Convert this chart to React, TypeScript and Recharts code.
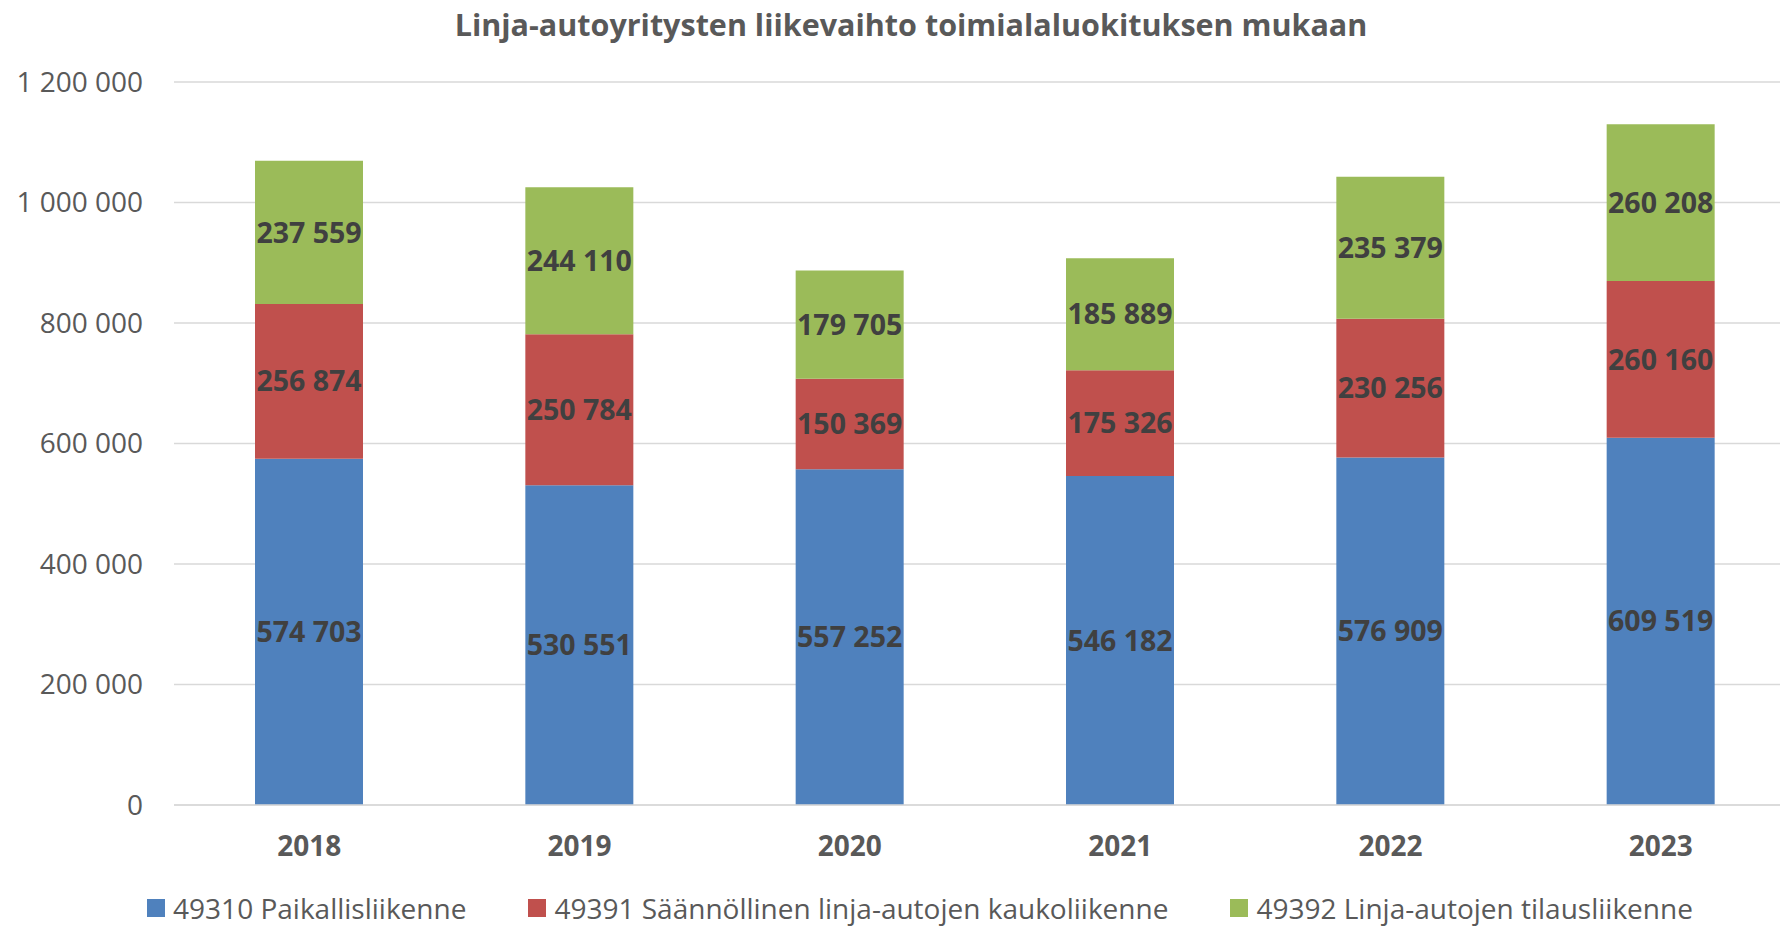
import React from "react";
import { BarChart, Bar, XAxis, YAxis, CartesianGrid, LabelList } from "recharts";

const years = ["2018", "2019", "2020", "2021", "2022", "2023"];
const paikallis = [574703, 530551, 557252, 546182, 576909, 609519];
const kauko = [256874, 250784, 150369, 175326, 230256, 260160];
const tilaus = [237559, 244110, 179705, 185889, 235379, 260208];
const yTicks = [0, 200000, 400000, 600000, 800000, 1000000, 1200000];

const series = [
  { key: "paikallis", name: "49310 Paikallisliikenne", color: "#4F81BD" },
  { key: "kauko", name: "49391 Säännöllinen linja-autojen kaukoliikenne", color: "#C0504D" },
  { key: "tilaus", name: "49392 Linja-autojen tilausliikenne", color: "#9BBB59" },
];

const data = years.map((y, i) => ({
  year: y,
  paikallis: paikallis[i],
  kauko: kauko[i],
  tilaus: tilaus[i],
}));

const fmt = (v: any) => String(v).replace(/\B(?=(\d{3})+(?!\d))/g, " ");
const FONT = "'Open Sans', 'Liberation Sans', sans-serif";

function LegendBox() {
  return (
    <div style={{ display: "flex", justifyContent: "center", gap: 62, fontFamily: FONT, fontSize: 28, lineHeight: "34px", color: "#595959" }}>
      {series.map((s) => (
        <div key={s.key} style={{ display: "flex", alignItems: "center" }}>
          <span style={{ width: 18, height: 18, background: s.color, display: "inline-block", marginRight: 8 }} />
          <span>{s.name}</span>
        </div>
      ))}
    </div>
  );
}

export default function App() {
  return (
    <div style={{ position: "absolute", left: 0, top: 0, width: 1780, height: 926, overflow: "hidden", background: "#fff" }}>
      <div style={{ position: "absolute", left: 0, top: 3, width: 1822, textAlign: "center", fontFamily: FONT, fontWeight: 700, fontSize: 30.5, color: "#595959" }}>
        Linja-autoyritysten liikevaihto toimialaluokituksen mukaan
      </div>
      <BarChart width={1800} height={926} data={data} margin={{ top: 82, right: 4, left: 0, bottom: 36 }}>
        <CartesianGrid vertical={false} stroke="#D9D9D9" strokeWidth={1.5} />
        <XAxis
          dataKey="year"
          tickLine={false}
          axisLine={{ stroke: "#D9D9D9", strokeWidth: 1.5 }}
          tick={{ fill: "#595959", fontSize: 28, fontWeight: 700, fontFamily: FONT }}
          tickMargin={25}
          height={85}
        />
        <YAxis
          width={174}
          domain={[0, 1200000]}
          ticks={yTicks}
          tickFormatter={fmt}
          tickLine={false}
          axisLine={false}
          tick={{ fill: "#595959", fontSize: 28, fontFamily: FONT }}
          tickMargin={25}
        />
        {series.map((s) => (
          <Bar key={s.key} dataKey={s.key} name={s.name} stackId="a" fill={s.color} barSize={108} isAnimationActive={false}>
            <LabelList dataKey={s.key} position="center" formatter={fmt} fill="#404040" fontSize={28.5} fontWeight={700} fontFamily={FONT} />
          </Bar>
        ))}
      </BarChart>
      <div style={{ position: "absolute", left: 0, top: 891, width: 1840 }}>
        <LegendBox />
      </div>
    </div>
  );
}
